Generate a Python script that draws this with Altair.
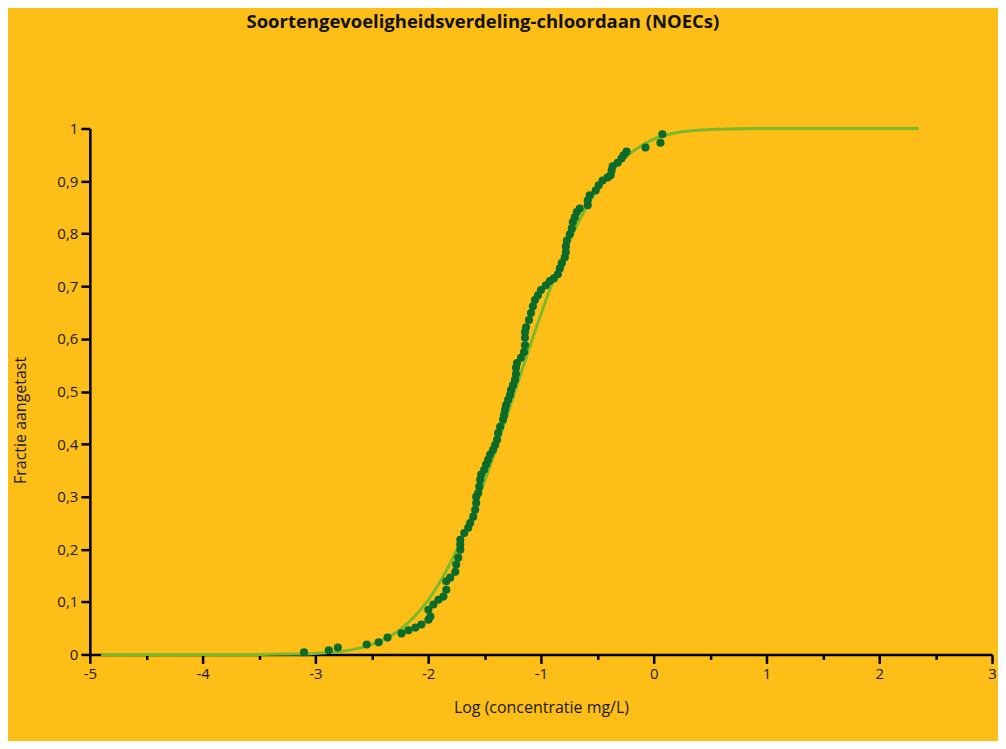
import altair as alt
import pandas as pd

chart_title = "Soortengevoeligheidsverdeling-chloordaan (NOECs)"
x_title = "Log (concentratie mg/L)"
y_title = "Fractie aangetast"

# observed NOEC data (log concentration, cumulative fraction)
obs_x = [-3.101, -2.881, -2.801, -2.545, -2.439, -2.360, -2.236, -2.174, -2.113, -2.060,
         -1.998, -1.980, -1.998, -1.954, -1.909, -1.865, -1.839, -1.839, -1.804, -1.759,
         -1.751, -1.733, -1.715, -1.715, -1.715, -1.680, -1.645, -1.627, -1.600, -1.583,
         -1.574, -1.574, -1.556, -1.547, -1.539, -1.530, -1.503, -1.486, -1.468, -1.450,
         -1.424, -1.406, -1.389, -1.380, -1.362, -1.336, -1.327, -1.318, -1.309, -1.291,
         -1.274, -1.265, -1.247, -1.230, -1.221, -1.221, -1.212, -1.177, -1.150, -1.141,
         -1.141, -1.141, -1.132, -1.106, -1.088, -1.071, -1.053, -1.026, -1.000, -0.956,
         -0.921, -0.885, -0.850, -0.832, -0.815, -0.788, -0.779, -0.779, -0.770, -0.744,
         -0.726, -0.717, -0.700, -0.682, -0.656, -0.585, -0.585, -0.567, -0.514, -0.488,
         -0.453, -0.408, -0.382, -0.373, -0.364, -0.320, -0.285, -0.267, -0.241, -0.073,
         0.060, 0.077]
obs_y = [0.004, 0.008, 0.013, 0.019, 0.023, 0.032, 0.040, 0.046, 0.051, 0.057,
         0.066, 0.072, 0.085, 0.095, 0.104, 0.110, 0.123, 0.139, 0.146, 0.157,
         0.171, 0.184, 0.199, 0.209, 0.218, 0.231, 0.241, 0.250, 0.262, 0.275,
         0.288, 0.300, 0.307, 0.319, 0.332, 0.342, 0.351, 0.361, 0.370, 0.380,
         0.389, 0.398, 0.408, 0.421, 0.433, 0.446, 0.455, 0.465, 0.474, 0.484,
         0.493, 0.503, 0.512, 0.522, 0.533, 0.545, 0.554, 0.564, 0.575, 0.588,
         0.602, 0.613, 0.622, 0.636, 0.649, 0.662, 0.674, 0.683, 0.693, 0.702,
         0.710, 0.715, 0.723, 0.734, 0.744, 0.755, 0.765, 0.776, 0.787, 0.799,
         0.810, 0.822, 0.831, 0.841, 0.848, 0.854, 0.863, 0.873, 0.882, 0.892,
         0.901, 0.907, 0.911, 0.920, 0.928, 0.935, 0.943, 0.949, 0.956, 0.964,
         0.973, 0.989]

# fitted species sensitivity curve
fit_x = [-4.9, -4.0, -3.6, -3.4, -3.2, -3.0, -2.8, -2.6, -2.4, -2.2, -2.0, -1.8, -1.6,
         -1.4, -1.2, -1.0, -0.8, -0.6, -0.4, -0.2, 0.0, 0.2, 0.4, 0.6, 0.8, 1.0, 2.35]
fit_y = [0.0, 0.0, 0.0, 0.0002, 0.0006, 0.0019, 0.0050, 0.0124, 0.0276, 0.0559, 0.1034,
         0.1751, 0.272, 0.390, 0.520, 0.647, 0.760, 0.849, 0.913, 0.954, 0.980, 0.992,
         0.997, 0.9988, 0.9996, 1.0, 1.0]

x_tick_values = [-5, -4.5, -4, -3.5, -3, -2.5, -2, -1.5, -1, -0.5, 0, 0.5, 1, 1.5, 2, 2.5, 3]
y_tick_values = [0, 0.05, 0.1, 0.15, 0.2, 0.25, 0.3, 0.35, 0.4, 0.45, 0.5,
                 0.55, 0.6, 0.65, 0.7, 0.75, 0.8, 0.85, 0.9, 0.95, 1.0]

BG = "#FCBE17"
LINE = "#7CB82A"
DOT = "#0B6B2A"
FONT = "Open Sans"

obs = pd.DataFrame({"x": obs_x, "y": obs_y})
fit = pd.DataFrame({"x": fit_x, "y": fit_y})

x_major = "datum.value % 1 == 0"
y_major = "abs(datum.value * 10 - round(datum.value * 10)) < 0.001"

x_axis = alt.Axis(
    values=x_tick_values,
    labelExpr=f"{x_major} ? ((datum.value < 0 ? '-' : '') + abs(datum.value)) : ''",
    tickSize={"condition": {"test": x_major, "value": 9}, "value": 5},
    title=x_title, titleFont=FONT, titleFontSize=16, titleFontWeight="normal",
    titleColor="#1a1a1a", titleY=58, titleBaseline="alphabetic",
    labelFont=FONT, labelFontSize=15, labelColor="#1a1a1a", labelPadding=3,
    domainColor="black", domainWidth=2.5, tickColor="black", tickWidth=2.5,
    grid=False, labelFlush=False, labelOverlap=False,
)
y_axis = alt.Axis(
    values=y_tick_values,
    labelExpr=f"{y_major} ? replace(format(datum.value, '.1~f'), '.', ',') : ''",
    tickSize={"condition": {"test": y_major, "value": 9}, "value": 6},
    title=y_title, titleFont=FONT, titleFontSize=16, titleFontWeight="normal",
    titleColor="#1a1a1a", titleX=-64, titleY=292, titleBaseline="alphabetic",
    titleAlign="center", titleAngle=270,
    labelFont=FONT, labelFontSize=15, labelColor="#1a1a1a", labelPadding=3,
    domainColor="black", domainWidth=2.5, tickColor="black", tickWidth=2.5,
    grid=False, labelFlush=False, labelOverlap=False,
)

xs = alt.Scale(domain=[-5, 3], nice=False, zero=False)
ys = alt.Scale(domain=[0, 1], nice=False)

line = alt.Chart(fit).mark_line(color=LINE, strokeWidth=3, interpolate="monotone").encode(
    x=alt.X("x:Q", scale=xs, axis=x_axis),
    y=alt.Y("y:Q", scale=ys, axis=y_axis),
)
pts = alt.Chart(obs).mark_circle(size=66, color=DOT, opacity=1).encode(
    x=alt.X("x:Q", scale=xs),
    y=alt.Y("y:Q", scale=ys),
)

chart = alt.layer(line, pts).properties(
    width=904,
    height=527,
    padding={"left": 82, "top": 120, "right": 6, "bottom": 86},
    autosize=alt.AutoSizeParams(type="none"),
    background=BG,
    title=alt.TitleParams(
        chart_title, anchor="start", frame="group", dx=157, dy=-86,
        font=FONT, fontSize=18.5, fontWeight="bold", color="#111111",
    ),
).configure_view(stroke=None)

chart.save("out.html", embed_options={"renderer": "svg", "actions": False})
